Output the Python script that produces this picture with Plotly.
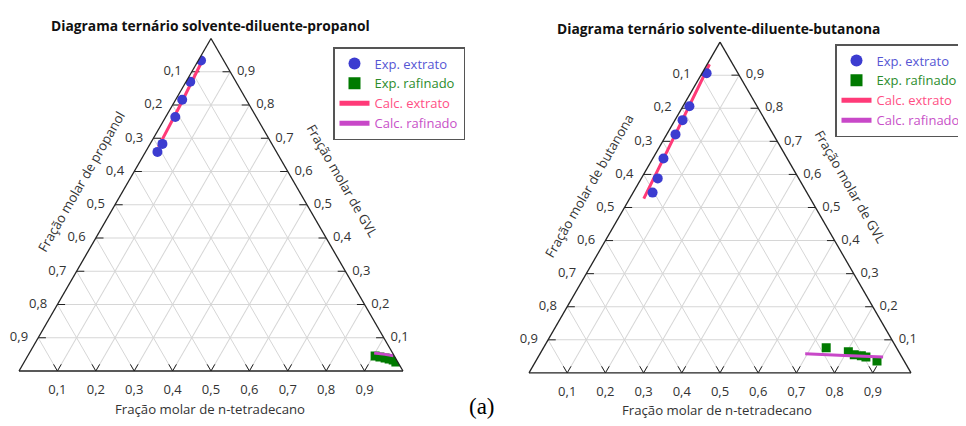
import plotly.graph_objects as go

# ---------------- data (mole fractions) ----------------
# Left diagram: solvent (GVL) - diluent (n-tetradecano) - propanol
p_ext_gvl = [0.934, 0.870, 0.816, 0.764, 0.683, 0.659]
p_ext_prop = [0.059, 0.119, 0.167, 0.211, 0.285, 0.310]
p_ext_tet = [0.007, 0.011, 0.017, 0.025, 0.032, 0.031]

p_raf_gvl = [0.045, 0.042, 0.039, 0.036, 0.033, 0.027]
p_raf_prop = [0.050, 0.039, 0.027, 0.018, 0.009, 0.005]
p_raf_tet = [0.905, 0.919, 0.934, 0.946, 0.958, 0.968]

p_cext_gvl = [0.927, 0.800, 0.674]
p_cext_prop = [0.062, 0.180, 0.300]
p_cext_tet = [0.011, 0.020, 0.026]

p_craf_gvl = [0.054, 0.050, 0.046]
p_craf_prop = [0.048, 0.022, 0.002]
p_craf_tet = [0.898, 0.928, 0.952]

# Right diagram: solvent (GVL) - diluent (n-tetradecano) - butanona
b_ext_gvl = [0.906, 0.806, 0.764, 0.721, 0.648, 0.588, 0.545]
b_ext_but = [0.082, 0.177, 0.216, 0.256, 0.324, 0.369, 0.404]
b_ext_tet = [0.012, 0.017, 0.020, 0.023, 0.028, 0.043, 0.051]

b_raf_gvl = [0.076, 0.064, 0.055, 0.052, 0.048, 0.036]
b_raf_but = [0.184, 0.132, 0.121, 0.104, 0.094, 0.071]
b_raf_tet = [0.740, 0.804, 0.824, 0.844, 0.858, 0.893]

b_cext_gvl = [0.933, 0.730, 0.527]
b_cext_but = [0.061, 0.248, 0.436]
b_cext_tet = [0.006, 0.022, 0.037]

b_craf_gvl = [0.058, 0.053, 0.048]
b_craf_but = [0.248, 0.148, 0.049]
b_craf_tet = [0.694, 0.799, 0.903]

tick_vals = [0.1, 0.2, 0.3, 0.4, 0.5, 0.6, 0.7, 0.8, 0.9]
tick_labels = ["0,1", "0,2", "0,3", "0,4", "0,5", "0,6", "0,7", "0,8", "0,9"]

legend_names = ["Exp. extrato", "Exp. rafinado", "Calc. extrato", "Calc. rafinado"]
legend_colors = ["#5656d4", "#2c8c2c", "#ff4f84", "#c850c8"]

C_BLUE = "#3c3cd0"
C_GREEN = "#007a00"
C_PINK = "#ff3a78"
C_MAG = "#c848c8"
C_AX = "#222222"
C_TXT = "#333333"

FONT = "Open Sans"
NB = "\u00a0"

# page body has an 8px margin; work in reference pixels and shift
OFF = 8
W, H = 966 - OFF, 426 - OFF


def px(X):
    return (X - OFF) / W


def py(Y):
    return 1 - (Y - OFF) / H


def lname(i):
    return "<span style='color:%s'>%s</span>" % (legend_colors[i], legend_names[i])


fig = go.Figure()


def add_frame(sub):
    t = 0.02
    tf = dict(family=FONT, size=13, color=C_TXT)
    # left edge: propanol / butanona fraction (0.1 at top)
    fig.add_trace(go.Scatterternary(
        a=[1 - v for v in tick_vals], b=tick_vals, c=[0] * 9,
        mode="text", text=[s + NB * 3 for s in tick_labels], textposition="middle left",
        subplot=sub, textfont=tf, cliponaxis=False, showlegend=False, hoverinfo="skip"))
    # right edge: GVL fraction
    fig.add_trace(go.Scatterternary(
        a=tick_vals, b=[0] * 9, c=[1 - v for v in tick_vals],
        mode="text", text=[NB * 2 + s for s in tick_labels], textposition="middle right",
        subplot=sub, textfont=tf, cliponaxis=False, showlegend=False, hoverinfo="skip"))
    # bottom edge: n-tetradecano fraction (invisible marker gives the label offset)
    fig.add_trace(go.Scatterternary(
        a=[0] * 9, b=[1 - v for v in tick_vals], c=tick_vals,
        mode="markers+text", text=tick_labels, textposition="bottom center",
        marker=dict(size=19, color="rgba(0,0,0,0)"),
        subplot=sub, textfont=tf, cliponaxis=False, showlegend=False, hoverinfo="skip"))
    ta, tb, tc = [], [], []
    for v in tick_vals:
        # left edge, horizontal inward
        ta += [1 - v, 1 - v, None]
        tb += [v, v - t, None]
        tc += [0, t, None]
        # right edge, horizontal inward
        ta += [v, v, None]
        tb += [0, t, None]
        tc += [1 - v, 1 - v - t, None]
        # bottom edge, V shaped
        ta += [t, 0, t, None]
        tb += [1 - v - t, 1 - v, 1 - v, None]
        tc += [v, v, v - t, None]
    fig.add_trace(go.Scatterternary(
        a=ta, b=tb, c=tc, mode="lines", subplot=sub, connectgaps=False,
        line=dict(color=C_AX, width=1), showlegend=False, hoverinfo="skip"))


def add_set(sub, leg, ext, raf, cext, craf):
    add_frame(sub)
    fig.add_trace(go.Scatterternary(
        a=cext[0], b=cext[1], c=cext[2], mode="lines", subplot=sub, legend=leg,
        line=dict(color=C_PINK, width=3), name=lname(2), legendrank=3, hoverinfo="skip"))
    fig.add_trace(go.Scatterternary(
        a=ext[0], b=ext[1], c=ext[2], mode="markers", subplot=sub, legend=leg,
        marker=dict(color=C_BLUE, size=10, symbol="circle"), name=lname(0), legendrank=1,
        hoverinfo="skip"))
    fig.add_trace(go.Scatterternary(
        a=raf[0], b=raf[1], c=raf[2], mode="markers", subplot=sub, legend=leg,
        marker=dict(color=C_GREEN, size=9, symbol="square"), name=lname(1), legendrank=2,
        hoverinfo="skip"))
    fig.add_trace(go.Scatterternary(
        a=craf[0], b=craf[1], c=craf[2], mode="lines", subplot=sub, legend=leg,
        line=dict(color=C_MAG, width=3), name=lname(3), legendrank=4, hoverinfo="skip"))


add_set("ternary", "legend",
        (p_ext_gvl, p_ext_prop, p_ext_tet), (p_raf_gvl, p_raf_prop, p_raf_tet),
        (p_cext_gvl, p_cext_prop, p_cext_tet), (p_craf_gvl, p_craf_prop, p_craf_tet))
add_set("ternary2", "legend2",
        (b_ext_gvl, b_ext_but, b_ext_tet), (b_raf_gvl, b_raf_but, b_raf_tet),
        (b_cext_gvl, b_cext_but, b_cext_tet), (b_craf_gvl, b_craf_but, b_craf_tet))


def axis():
    return dict(
        title=dict(text=""),
        tickmode="array", tickvals=tick_vals,
        ticks="", showticklabels=False,
        showline=True, linecolor=C_AX, linewidth=1.3,
        showgrid=True, gridcolor="#d6d6d6", gridwidth=1,
    )


def tern(x0, x1, y0, y1):
    return dict(
        domain=dict(x=[px(x0), px(x1)], y=[py(y1), py(y0)]),
        sum=1, bgcolor="white",
        aaxis=axis(), baxis=axis(), caxis=axis(),
    )


legend_common = dict(
    bgcolor="white", bordercolor="#555", borderwidth=1.5,
    font=dict(family=FONT, size=13),
    xanchor="left", yanchor="top", tracegroupgap=0,
    itemsizing="constant",
)

fig.update_layout(
    width=W, height=H,
    margin=dict(l=0, r=0, t=0, b=0, autoexpand=False),
    paper_bgcolor="white",
    showlegend=True,
    ternary=tern(19, 403, 38.5, 371),
    ternary2=tern(529, 911, 42, 373),
    legend=dict(x=px(333), y=py(47), **legend_common),
    legend2=dict(x=px(835), y=py(44), **legend_common),
)

annots = [
    dict(text="<b>Diagrama ternário solvente-diluente-propanol</b>", x=210, y=25, angle=0, size=13.8, color="#111"),
    dict(text="<b>Diagrama ternário solvente-diluente-butanona</b>", x=718, y=29, angle=0, size=13.8, color="#111"),
    dict(text="Fração molar de propanol", x=81, y=182, angle=-60, size=13.2, color=C_TXT),
    dict(text="Fração molar de GVL", x=342, y=180, angle=60, size=13.2, color=C_TXT),
    dict(text="Fração molar de n-tetradecano", x=210, y=409, angle=0, size=13.2, color=C_TXT),
    dict(text="Fração molar de butanona", x=589, y=186, angle=-60, size=13.2, color=C_TXT),
    dict(text="Fração molar de GVL", x=850, y=186, angle=60, size=13.2, color=C_TXT),
    dict(text="Fração molar de n-tetradecano", x=717, y=410, angle=0, size=13.2, color=C_TXT),
]
for a in annots:
    fig.add_annotation(
        text=a["text"], x=px(a["x"]), y=py(a["y"]), xref="paper", yref="paper",
        xanchor="center", yanchor="middle", showarrow=False, textangle=a["angle"],
        font=dict(family=FONT, size=a["size"], color=a["color"]),
    )
fig.add_annotation(
    text="(a)", x=px(482), y=py(406), xref="paper", yref="paper",
    xanchor="center", yanchor="middle", showarrow=False,
    font=dict(family="Liberation Serif", size=23, color="#000"),
)

fig.write_html("out.html")
